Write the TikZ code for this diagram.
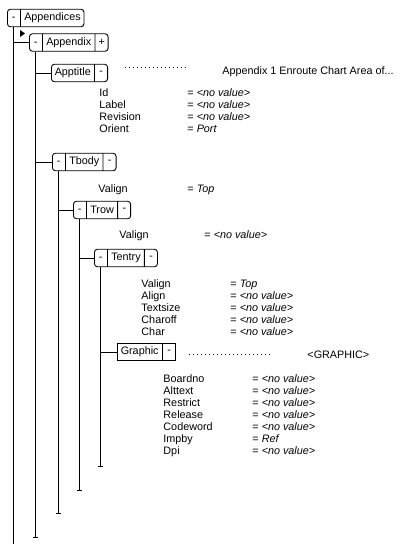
\documentclass[tikz,border=0pt]{standalone}
\usepackage{fontspec}
\setmainfont{Liberation Sans}
\usetikzlibrary{arrows.meta,shapes.multipart}
\newcommand{\tg}[1]{\makebox[6pt]{#1}}
\newcommand{\nv}{\textit{<no value>}}

\begin{document}
\begin{tikzpicture}[x=1pt,y=-1pt,line width=0.9pt,
    font=\fontsize{10.8}{12}\selectfont,
    elem/.style={draw,rectangle split,rectangle split horizontal,
      rectangle split parts=#1,anchor=west,inner xsep=3.3pt,inner ysep=3.5pt,
      text height=8pt,text depth=2.5pt},
    elem/.default=3,
    rnd/.style={rounded corners=3pt},
    stem/.style={-{Bar[width=5pt]}},
    leader/.style={dash pattern=on 1pt off 3pt},
    attrs/.style={anchor=base west,inner sep=0pt}]
  \useasboundingbox (0,0) rectangle (402,544);

  % element boxes
  \node[elem=2,rnd] (root) at (7,18) {\tg{-}\nodepart{two}Appendices};
  \node[elem,rnd] (apx) at (29,42.5) {\tg{-}\nodepart{two}Appendix\nodepart{three}\tg{+}};
  \node[elem=2,rnd] (ttl) at (51,73) {Apptitle\nodepart{two}\tg{-}};
  \node[elem,rnd] (tb) at (52,162) {\tg{-}\nodepart{two}Tbody\nodepart{three}\tg{-}};
  \node[elem,rnd] (tr) at (73,210) {\tg{-}\nodepart{two}Trow\nodepart{three}\tg{-}};
  \node[elem,rnd] (te) at (94,258) {\tg{-}\nodepart{two}Tentry\nodepart{three}\tg{-}};
  \node[elem=2] (gr) at (117,352) {Graphic\nodepart{two}\tg{-}};

  \fill (20,30) -- (25,33.5) -- (20,37) -- cycle;

  % tree lines
  \coordinate (root-end) at (0,544);
  \coordinate (apx-end) at (0,538);
  \coordinate (tb-end) at (0,514);
  \coordinate (tr-end) at (0,491);
  \coordinate (te-end) at (0,467);
  \draw (root.one south) -- (root.one south |- root-end);
  \draw[stem] (apx.one south) -- (apx.one south |- apx-end);
  \draw[stem] (tb.one south) -- (tb.one south |- tb-end);
  \draw[stem] (tr.one south) -- (tr.one south |- tr-end);
  \draw[stem] (te.one south) -- (te.one south |- te-end);
  \draw (apx.west) -- (apx.west -| root.one south);
  \draw (ttl.west) -- (ttl.west -| apx.one south);
  \draw (tb.west) -- (tb.west -| apx.one south);
  \draw (tr.west) -- (tr.west -| tb.one south);
  \draw (te.west) -- (te.west -| tr.one south);
  \draw (gr.west) -- (gr.west -| te.one south);

  % contents
  \draw[leader] (125,67) -- (187,67);
  \node[attrs] (ttl-val) at (222,74) {Appendix 1 Enroute Chart Area of...};
  \draw[leader] (189,354) -- (270,354);
  \node[attrs] (gr-val) at (307,358) {<GRAPHIC>};

  % attributes
  \node[attrs] (ttl-at) at (99,96) {\begin{tabular}[t]{@{}p{88pt}@{}l@{}}
    Id & = \nv\\ Label & = \nv\\ Revision & = \nv\\ Orient & = \textit{Port}
  \end{tabular}};
  \node[attrs] (tb-at) at (98,192) {\begin{tabular}[t]{@{}p{89pt}@{}l@{}}
    Valign & = \textit{Top}
  \end{tabular}};
  \node[attrs] (tr-at) at (119,238) {\begin{tabular}[t]{@{}p{85pt}@{}l@{}}
    Valign & = \nv
  \end{tabular}};
  \node[attrs] (te-at) at (141,287) {\begin{tabular}[t]{@{}p{89pt}@{}l@{}}
    Valign & = \textit{Top}\\ Align & = \nv\\ Textsize & = \nv\\
    Charoff & = \nv\\ Char & = \nv
  \end{tabular}};
  \node[attrs] (gr-at) at (163,382) {\begin{tabular}[t]{@{}p{89pt}@{}l@{}}
    Boardno & = \nv\\ Alttext & = \nv\\ Restrict & = \nv\\ Release & = \nv\\
    Codeword & = \nv\\ Impby & = \textit{Ref}\\ Dpi & = \nv
  \end{tabular}};
\end{tikzpicture}
\end{document}
